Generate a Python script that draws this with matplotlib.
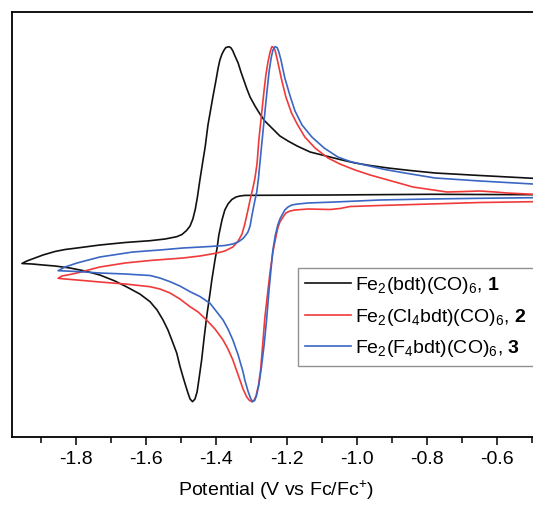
import numpy as np
import matplotlib
matplotlib.use("Agg")
import matplotlib.pyplot as plt

plt.rcParams['font.family'] = ['Liberation Sans', 'DejaVu Sans']
plt.rcParams['mathtext.fontset'] = 'custom'
plt.rcParams['mathtext.rm'] = 'Liberation Sans'
plt.rcParams['mathtext.bf'] = 'Liberation Sans:bold'

# cyclic voltammograms: potential (V vs Fc/Fc+), current (arb. units)
# "fwd" = scan from -0.5 V to the switch point, "rev" = back again

# --- compound 1 ---
pot_1_fwd = [-0.498, -0.791, -1.076, -1.276, -1.319, -1.333, -1.344, -1.356, -1.367, -1.376,
             -1.384, -1.393, -1.398, -1.404, -1.413, -1.418, -1.427, -1.435, -1.442, -1.450,
             -1.455, -1.461, -1.468, -1.475, -1.481, -1.489, -1.495, -1.504, -1.513, -1.527,
             -1.538, -1.552, -1.569, -1.589, -1.618, -1.655, -1.689, -1.732, -1.774, -1.817,
             -1.860, -1.894, -1.925, -1.954]
cur_1_fwd = [0.03, 0.07, 0.0, -0.03, -0.04, -0.1, -0.2, -0.45, -0.9, -1.5,
             -2.5, -4.0, -5.3, -6.5, -8.5, -9.8, -12.0, -14.3, -16.5, -18.5,
             -19.7, -20.4, -20.67, -20.4, -19.8, -18.9, -18.2, -17.1, -15.8, -14.5,
             -13.5, -12.5, -11.5, -10.67, -9.9, -9.2, -8.6, -8.0, -7.6, -7.3,
             -7.1, -7.0, -6.9, -6.85]
pot_1_rev = [-1.954, -1.940, -1.917, -1.894, -1.860, -1.831, -1.797, -1.732, -1.660, -1.589,
             -1.546, -1.513, -1.498, -1.485, -1.475, -1.467, -1.460, -1.454, -1.447, -1.438,
             -1.432, -1.424, -1.415, -1.410, -1.401, -1.395, -1.390, -1.384, -1.378, -1.373,
             -1.364, -1.358, -1.353, -1.347, -1.338, -1.330, -1.321, -1.313, -1.304, -1.290,
             -1.276, -1.262, -1.242, -1.219, -1.196, -1.170, -1.133, -1.099, -1.048, -1.005,
             -0.962, -0.911, -0.848, -0.777, -0.649, -0.498]
cur_1_rev = [-6.85, -6.6, -6.3, -6.0, -5.65, -5.45, -5.3, -5.0, -4.75, -4.57,
             -4.4, -4.17, -3.95, -3.55, -3.1, -2.4, -1.4, -0.2, 1.5, 3.5,
             4.8, 7.0, 8.8, 9.8, 11.5, 12.7, 13.5, 14.1, 14.5, 14.75,
             14.83, 14.7, 14.4, 13.9, 13.2, 12.3, 11.4, 10.6, 9.8, 8.9,
             8.1, 7.4, 6.7, 5.9, 5.4, 4.9, 4.3, 4.0, 3.55, 3.2,
             2.95, 2.7, 2.45, 2.2, 1.95, 1.67]

# --- compound 2 ---
pot_2_fwd = [-0.498, -0.649, -0.791, -0.934, -1.019, -1.048, -1.076, -1.139, -1.176, -1.190,
             -1.202, -1.210, -1.219, -1.225, -1.230, -1.239, -1.247, -1.253, -1.262, -1.267,
             -1.274, -1.280, -1.287, -1.293, -1.299, -1.307, -1.314, -1.324, -1.333, -1.343,
             -1.353, -1.367, -1.381, -1.404, -1.428, -1.452, -1.475, -1.504, -1.532, -1.561,
             -1.589, -1.660, -1.732, -1.797, -1.831, -1.851]
cur_2_fwd = [-0.67, -0.75, -0.9, -1.05, -1.15, -1.35, -1.45, -1.4, -1.5, -1.6,
             -1.8, -2.2, -2.7, -3.3, -4.1, -5.7, -7.7, -9.5, -12.3, -14.5,
             -17.5, -19.0, -20.1, -20.55, -20.67, -20.5, -20.17, -19.4, -18.5, -17.5,
             -16.5, -15.4, -14.5, -13.4, -12.5, -11.7, -11.17, -10.4, -9.8, -9.4,
             -9.17, -8.9, -8.7, -8.5, -8.4, -8.33]
pot_2_rev = [-1.851, -1.840, -1.817, -1.797, -1.732, -1.660, -1.589, -1.495, -1.447, -1.398,
             -1.376, -1.353, -1.338, -1.327, -1.319, -1.310, -1.304, -1.296, -1.290, -1.284,
             -1.279, -1.271, -1.264, -1.259, -1.253, -1.247, -1.242, -1.237, -1.233, -1.225,
             -1.214, -1.202, -1.186, -1.170, -1.148, -1.119, -1.082, -1.048, -1.005, -0.962,
             -0.911, -0.840, -0.743, -0.692, -0.649, -0.606, -0.572, -0.498]
cur_2_rev = [-8.33, -8.1, -7.95, -7.8, -7.2, -6.8, -6.55, -6.3, -6.1, -5.8,
             -5.6, -5.2, -4.6, -3.9, -2.9, -1.5, -0.5, 0.7, 1.7, 3.2,
             5.5, 8.2, 10.5, 12.0, 13.3, 14.3, 14.83, 14.75, 14.5, 13.3,
             11.5, 9.8, 8.2, 7.1, 5.8, 4.7, 3.7, 3.1, 2.5, 2.0,
             1.5, 0.8, 0.3, 0.35, 0.4, 0.3, 0.2, 0.07]

# --- compound 3 ---
pot_3_fwd = [-0.498, -0.649, -0.791, -0.934, -1.062, -1.139, -1.168, -1.185, -1.196, -1.205,
             -1.213, -1.219, -1.225, -1.232, -1.239, -1.244, -1.250, -1.257, -1.264, -1.272,
             -1.279, -1.286, -1.291, -1.297, -1.303, -1.310, -1.319, -1.324, -1.338, -1.353,
             -1.367, -1.381, -1.418, -1.447, -1.475, -1.504, -1.532, -1.561, -1.589, -1.660,
             -1.732, -1.797, -1.831, -1.851]
cur_3_fwd = [-0.27, -0.33, -0.4, -0.5, -0.7, -0.8, -0.9, -1.0, -1.2, -1.5,
             -2.0, -2.4, -3.0, -4.0, -5.5, -7.3, -9.5, -12.5, -15.0, -17.3,
             -19.0, -20.1, -20.55, -20.67, -20.3, -19.6, -18.5, -17.7, -16.0, -14.5,
             -13.4, -12.5, -10.83, -10.15, -9.67, -9.1, -8.67, -8.3, -8.05, -7.9,
             -7.8, -7.65, -7.6, -7.57]
pot_3_rev = [-1.851, -1.831, -1.797, -1.732, -1.638, -1.561, -1.495, -1.418, -1.376, -1.353,
             -1.338, -1.324, -1.316, -1.310, -1.304, -1.299, -1.294, -1.290, -1.285, -1.280,
             -1.276, -1.269, -1.262, -1.256, -1.250, -1.244, -1.239, -1.233, -1.227, -1.222,
             -1.216, -1.205, -1.190, -1.176, -1.156, -1.128, -1.093, -1.054, -1.019, -0.977,
             -0.920, -0.863, -0.777, -0.649, -0.498]
cur_3_rev = [-7.57, -7.2, -6.8, -6.2, -5.7, -5.5, -5.3, -5.15, -5.05, -4.9,
             -4.7, -4.35, -4.0, -3.7, -3.1, -2.1, -1.2, -0.5, 0.3, 1.7,
             3.2, 5.7, 8.2, 10.3, 12.3, 13.7, 14.5, 14.83, 14.75, 14.3,
             13.5, 11.7, 9.9, 8.4, 7.0, 5.8, 4.7, 3.8, 3.35, 3.0,
             2.55, 2.2, 1.7, 1.4, 1.1]

labels = [r'Fe$_2$(bdt)(CO)$_6$, $\mathbf{1}$',
          r'Fe$_2$(Cl$_4$bdt)(CO)$_6$, $\mathbf{2}$',
          r'Fe$_2$(F$_4$bdt)(CO)$_6$, $\mathbf{3}$']
colors = ['#111111', '#f03a3a', '#3a66c4']

scans = [(pot_1_fwd + pot_1_rev, cur_1_fwd + cur_1_rev),
         (pot_2_fwd + pot_2_rev, cur_2_fwd + cur_2_rev),
         (pot_3_fwd + pot_3_rev, cur_3_fwd + cur_3_rev)]

fig = plt.figure(figsize=(5.33, 5.08), dpi=100)
ax = fig.add_axes([12/533, 71/508, 528/533, 425/508])

for (p, c), lab, col in zip(scans, labels, colors):
    ax.plot(p, c, color=col, lw=1.2, label=lab)

ax.set_xlim(-1.9823, -0.478)
ax.set_ylim(-24.2, 18.3)
ax.set_xticks([-1.8, -1.6, -1.4, -1.2, -1.0, -0.8, -0.6])
ax.set_xticklabels(['-1.8', '-1.6', '-1.4', '-1.2', '-1.0', '-0.8', '-0.6'])
ax.set_xticks(np.arange(-1.9, -0.45, 0.2), minor=True)
ax.set_yticks([])
ax.tick_params(axis='x', which='major', direction='out', length=6, width=1.1, labelsize=14, pad=4)
ax.tick_params(axis='x', which='minor', direction='out', length=4, width=1.1)
for s in ax.spines.values():
    s.set_linewidth(1.3)
ax.set_xlabel(r'Potential (V vs Fc/Fc$^{+}$)', fontsize=14, labelpad=7)

leg = ax.legend(loc='upper left', bbox_to_anchor=(0.5417, 0.3976), borderaxespad=0,
                fontsize=14, frameon=True, fancybox=False, edgecolor='#777777',
                handlelength=2.4, handletextpad=0.2, labelspacing=0.55, borderpad=0.35)
leg.get_frame().set_linewidth(1.0)

fig.savefig('out.png', dpi=100)
